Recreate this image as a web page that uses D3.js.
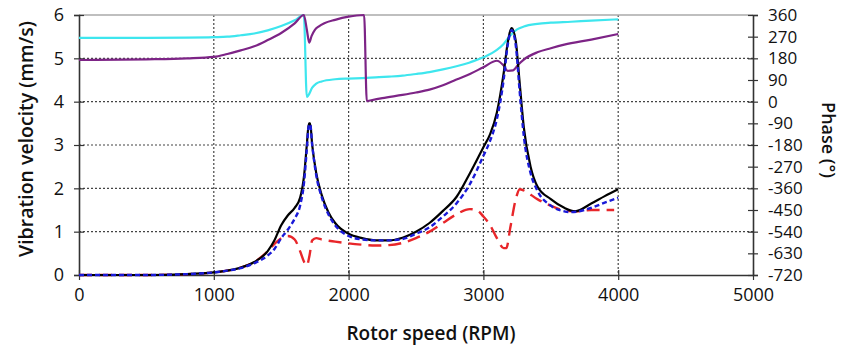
<!DOCTYPE html>
<html lang="en">
<head>
    <meta charset="UTF-8">
    <title></title>
    <style type="text/css">
        html, body { padding:0; margin:0; background:#fff; }
        text { font-family: "Open Sans", sans-serif; fill:#111; }
    </style>
</head>
<body>
<script src="https://d3js.org/d3.v7.min.js"></script>
<script>
    var width = 844,
        height = 352;

    // rotor speed ticks
    var speedTicks = [0, 1000, 2000, 3000, 4000, 5000],
        velTicks = [0, 1, 2, 3, 4, 5, 6],
        phaseTicks = [-720, -630, -540, -450, -360, -270, -180, -90, 0, 90, 180, 270, 360];

    // black solid - amplitude
    var blackRpm = [0, 500, 800, 1000, 1100, 1200, 1300, 1400, 1450, 1500, 1550, 1600, 1640, 1670, 1690, 1705, 1715, 1730, 1760, 1800, 1850, 1900, 2000, 2100, 2200, 2300, 2400, 2500, 2600, 2700, 2800, 2900, 3000, 3050, 3100, 3150, 3180, 3210, 3240, 3270, 3300, 3350, 3400, 3500, 3600, 3680, 3800, 3900, 4000],
        blackVel = [0, 0, 0.02, 0.06, 0.1, 0.17, 0.3, 0.55, 0.8, 1.15, 1.38, 1.55, 1.78, 2.3, 3.0, 3.5, 3.5, 3.0, 2.35, 1.85, 1.45, 1.2, 0.95, 0.85, 0.8, 0.8, 0.86, 1.0, 1.2, 1.48, 1.8, 2.35, 2.95, 3.25, 3.75, 4.65, 5.35, 5.7, 5.4, 4.4, 3.4, 2.5, 2.05, 1.75, 1.55, 1.47, 1.65, 1.82, 1.98];

    // blue short dash
    var blueRpm = [0, 500, 800, 1000, 1100, 1200, 1300, 1400, 1450, 1500, 1550, 1600, 1640, 1670, 1690, 1705, 1715, 1730, 1760, 1800, 1850, 1900, 2000, 2100, 2200, 2300, 2400, 2500, 2600, 2700, 2800, 2900, 3000, 3050, 3100, 3150, 3180, 3210, 3240, 3270, 3300, 3350, 3400, 3500, 3600, 3650, 3800, 3900, 4000],
        blueVel = [0, 0, 0.02, 0.06, 0.1, 0.16, 0.27, 0.45, 0.6, 0.85, 1.05, 1.3, 1.6, 2.15, 2.9, 3.45, 3.48, 3.0, 2.3, 1.8, 1.4, 1.15, 0.9, 0.82, 0.8, 0.8, 0.83, 0.95, 1.1, 1.35, 1.65, 2.1, 2.75, 3.1, 3.6, 4.5, 5.3, 5.65, 5.3, 4.2, 3.2, 2.35, 1.95, 1.6, 1.47, 1.45, 1.55, 1.67, 1.78];

    // red long dash
    var redRpm = [0, 500, 800, 1000, 1100, 1200, 1300, 1400, 1450, 1500, 1550, 1600, 1640, 1670, 1690, 1710, 1730, 1760, 1800, 1900, 2000, 2100, 2200, 2300, 2400, 2500, 2600, 2700, 2800, 2900, 2950, 3000, 3050, 3100, 3150, 3170, 3200, 3240, 3270, 3300, 3400, 3500, 3600, 3700, 3800, 3900, 3970],
        redVel = [0, 0, 0.02, 0.06, 0.1, 0.17, 0.3, 0.55, 0.72, 0.85, 0.9, 0.82, 0.55, 0.3, 0.22, 0.45, 0.8, 0.85, 0.82, 0.77, 0.73, 0.7, 0.68, 0.69, 0.74, 0.85, 1.0, 1.2, 1.4, 1.52, 1.5, 1.35, 1.15, 0.85, 0.62, 0.62, 1.1, 1.75, 1.98, 1.95, 1.75, 1.6, 1.49, 1.47, 1.5, 1.5, 1.5];

    // cyan phase
    var cyanRpm = [0, 500, 800, 1000, 1100, 1200, 1300, 1400, 1500, 1600, 1668, 1690, 1700, 1730, 1760, 1800, 1900, 2000, 2100, 2200, 2300, 2400, 2500, 2600, 2700, 2800, 2900, 3000, 3100, 3150, 3200, 3250, 3300, 3400, 3500, 3650, 3800, 4000],
        cyanPhase = [265, 265, 266, 268, 270, 276, 283, 296, 314, 338, 360, 20, 25, 58, 75, 84, 93, 96, 98, 101, 104, 108, 115, 123, 134, 147, 163, 184, 215, 240, 275, 300, 312, 323, 328, 332, 337, 342];

    // purple phase
    var purpleRpm = [0, 500, 800, 1000, 1100, 1200, 1300, 1400, 1500, 1600, 1668, 1690, 1708, 1725, 1750, 1780, 1820, 1900, 2000, 2060, 2115, 2135, 2160, 2250, 2400, 2500, 2600, 2700, 2800, 2900, 3000, 3100, 3150, 3180, 3220, 3260, 3300, 3400, 3500, 3600, 3800, 4000],
        purplePhase = [173, 176, 180, 186, 198, 213, 230, 256, 285, 325, 360, 300, 245, 272, 298, 313, 326, 340, 353, 358, 360, 2, 5, 15, 28, 38, 50, 68, 92, 115, 143, 170, 150, 128, 130, 155, 175, 205, 222, 237, 258, 281];

    var svg = d3.select('body').append('svg')
                .attr('width', width)
                .attr('height', height);

    var plotL = 79, plotR = 753, plotT = 15, plotB = 275;

    var scaleX = d3.scaleLinear().domain([0, 5000]).range([plotL, plotR]),
        scaleY = d3.scaleLinear().domain([0, 6]).range([plotB, plotT]),
        scaleP = d3.scaleLinear().domain([-720, 360]).range([plotB, plotT]);

    // grid
    svg.append('g').selectAll('line')
       .data(velTicks.filter(function(d){ return d > 0 && d < 6; }))
       .enter().append('line')
       .attr('x1', plotL).attr('x2', plotR)
       .attr('y1', function(d){ return scaleY(d); })
       .attr('y2', function(d){ return scaleY(d); })
       .attr('stroke', '#444').attr('stroke-width', 1.2)
       .attr('stroke-dasharray', '2,2');

    svg.append('g').selectAll('line')
       .data(speedTicks.filter(function(d){ return d > 0 && d < 5000; }))
       .enter().append('line')
       .attr('y1', plotT).attr('y2', plotB)
       .attr('x1', function(d){ return scaleX(d); })
       .attr('x2', function(d){ return scaleX(d); })
       .attr('stroke', '#444').attr('stroke-width', 1.2)
       .attr('stroke-dasharray', '2,2');

    // frame top
    svg.append('line')
       .attr('x1', plotL).attr('x2', plotR).attr('y1', plotT).attr('y2', plotT)
       .attr('stroke', '#aaa').attr('stroke-width', 1.5);

    // plain hyphen for negatives, like the original
    var fmt = function(d){ return String(d); };

    var axisX = d3.axisBottom(scaleX).tickValues(speedTicks).tickFormat(fmt).tickSize(0).tickPadding(13),
        axisY = d3.axisLeft(scaleY).tickValues(velTicks).tickFormat(fmt).tickSize(5).tickPadding(10),
        axisP = d3.axisRight(scaleP).tickValues(phaseTicks).tickFormat(fmt).tickSize(5).tickPadding(10);

    svg.append('g')
       .attr('class', 'xAxis')
       .attr('transform', 'translate(0,' + plotB + ')')
       .call(axisX);

    svg.append('g')
       .attr('class', 'yAxis')
       .attr('transform', 'translate(' + plotL + ',0)')
       .call(axisY);

    svg.append('g')
       .attr('class', 'pAxis')
       .attr('transform', 'translate(' + plotR + ',0)')
       .call(axisP);

    // ticks crossing the axis lines
    d3.selectAll('.yAxis .tick line').attr('x2', -5).attr('x1', 5);
    d3.selectAll('.pAxis .tick line').attr('x1', -5).attr('x2', 5);
    d3.selectAll('.xAxis .tick')
      .append('line')
      .attr('y1', -5).attr('y2', 5)
      .attr('stroke', '#333');

    svg.selectAll('.domain').attr('stroke', '#333').attr('stroke-width', 1.6);
    svg.selectAll('.tick line').attr('stroke', '#333').attr('stroke-width', 1.2);
    svg.selectAll('.tick text')
       .style('font-family', '"Open Sans", sans-serif')
       .style('font-size', '18px')
       .attr('fill', '#111');
    svg.selectAll('.pAxis .tick text').style('font-size', '17px');

    var lineV = d3.line()
                  .x(function(d){ return scaleX(d[0]); })
                  .y(function(d){ return scaleY(d[1]); })
                  .curve(d3.curveMonotoneX);

    var lineP = d3.line()
                  .x(function(d){ return scaleX(d[0]); })
                  .y(function(d){ return scaleP(d[1]); })
                  .curve(d3.curveMonotoneX);

    svg.append('path')
       .attr('d', lineP(d3.zip(cyanRpm, cyanPhase)))
       .attr('fill', 'none').attr('stroke', '#3ee6ee').attr('stroke-width', 2.2);

    svg.append('path')
       .attr('d', lineP(d3.zip(purpleRpm, purplePhase)))
       .attr('fill', 'none').attr('stroke', '#7d2486').attr('stroke-width', 2.2);

    svg.append('path')
       .attr('d', lineV(d3.zip(redRpm, redVel)))
       .attr('fill', 'none').attr('stroke', '#e8262a').attr('stroke-width', 2.4)
       .attr('stroke-dasharray', '13,7');

    svg.append('path')
       .attr('d', lineV(d3.zip(blackRpm, blackVel)))
       .attr('fill', 'none').attr('stroke', '#000').attr('stroke-width', 2.2);

    svg.append('path')
       .attr('d', lineV(d3.zip(blueRpm, blueVel)))
       .attr('fill', 'none').attr('stroke', '#1a1ad8').attr('stroke-width', 2.4)
       .attr('stroke-dasharray', '5,3');

    // titles
    svg.append('text')
       .attr('x', 431).attr('y', 340)
       .attr('text-anchor', 'middle')
       .style('font-size', '19px').style('font-weight', 600)
       .text('Rotor speed (RPM)');

    svg.append('text')
       .attr('transform', 'translate(33,139) rotate(-90)')
       .attr('text-anchor', 'middle')
       .style('font-size', '19.5px').style('font-weight', 600)
       .text('Vibration velocity (mm/s)');

    svg.append('text')
       .attr('transform', 'translate(822,140) rotate(90)')
       .attr('text-anchor', 'middle')
       .style('font-size', '18px').style('font-weight', 600)
       .text('Phase (°)');
</script>
</body>
</html>
